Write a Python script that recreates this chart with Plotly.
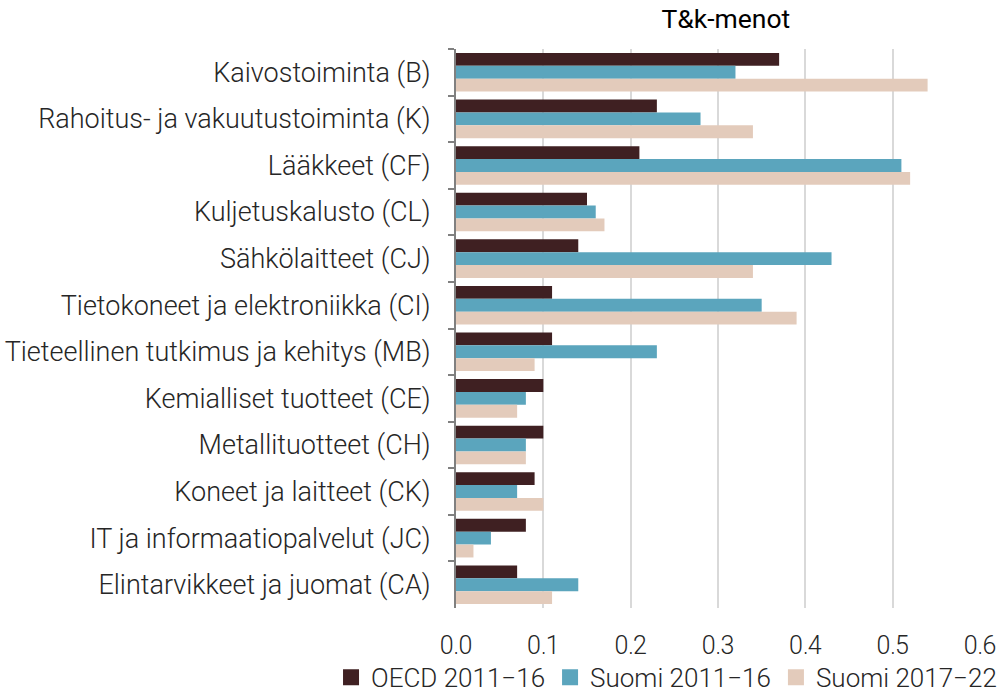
import plotly.graph_objects as go

# =====================================================
# DATA
# =====================================================

toimialat = [
    "Kaivostoiminta (B)",
    "Rahoitus- ja vakuutustoiminta (K)",
    "Lääkkeet (CF)",
    "Kuljetuskalusto (CL)",
    "Sähkölaitteet (CJ)",
    "Tietokoneet ja elektroniikka (CI)",
    "Tieteellinen tutkimus ja kehitys (MB)",
    "Kemialliset tuotteet (CE)",
    "Metallituotteet (CH)",
    "Koneet ja laitteet (CK)",
    "IT ja informaatiopalvelut (JC)",
    "Elintarvikkeet ja juomat (CA)",
]

oecd_2011_16 = [0.37, 0.23, 0.21, 0.15, 0.14, 0.11, 0.11, 0.10, 0.10, 0.09, 0.08, 0.07]
suomi_2011_16 = [0.32, 0.28, 0.51, 0.16, 0.43, 0.35, 0.23, 0.08, 0.08, 0.07, 0.04, 0.14]
suomi_2017_22 = [0.54, 0.34, 0.52, 0.17, 0.34, 0.39, 0.09, 0.07, 0.08, 0.10, 0.02, 0.11]

series = [
    ("OECD 2011\u221216", oecd_2011_16, "#3f2022"),
    ("Suomi 2011\u221216", suomi_2011_16, "#5ba5bd"),
    ("Suomi 2017\u221222", suomi_2017_22, "#e3cbbb"),
]

FONT = "Roboto"

# =====================================================
# FIGURE
# =====================================================

fig = go.Figure()

for name, values, color in series:
    fig.add_trace(go.Bar(
        y=toimialat,
        x=values,
        orientation="h",
        name=name,
        marker=dict(color=color, line=dict(width=0)),
        showlegend=False,
    ))

# small square legend markers
for name, values, color in series:
    fig.add_trace(go.Scatter(
        x=[None],
        y=[None],
        mode="markers",
        name=name,
        marker=dict(symbol="square", size=17, color=color),
    ))

fig.update_layout(
    width=1004,
    height=695,
    barmode="group",
    bargap=0.17,
    bargroupgap=0,
    separators=", ",
    paper_bgcolor="white",
    plot_bgcolor="white",
    margin=dict(l=456, r=24, t=49, b=87, autoexpand=False),
    font=dict(family=FONT, size=27, color="#262626", weight=300),
    title=dict(
        text="T&k-menot",
        x=0.515,
        xref="paper",
        xanchor="center",
        y=0.986,
        yanchor="top",
        font=dict(family=FONT, size=26.5, color="#000000", weight=400),
    ),
    legend=dict(
        orientation="h",
        x=-0.2385,
        xanchor="left",
        y=-0.082,
        yanchor="top",
        itemwidth=30,
        font=dict(family=FONT, size=26, color="#262626", weight=300),
        traceorder="normal",
    ),
)

fig.update_xaxes(
    range=[0, 0.6],
    dtick=0.1,
    tickformat=".1f",
    showgrid=True,
    gridcolor="#d9d9d9",
    gridwidth=1.5,
    zeroline=False,
    showline=False,
    ticks="",
    ticklabelstandoff=20,
    tickfont=dict(size=25),
    automargin=False,
)

fig.update_yaxes(
    autorange="reversed",
    showline=True,
    linecolor="#808080",
    linewidth=2,
    ticks="outside",
    tickson="boundaries",
    ticklen=6,
    tickcolor="#808080",
    tickwidth=2,
    ticklabelstandoff=18,
    automargin=False,
)

# drop the browser's default 8px body margin so the figure sits at 0,0
fig.write_html(
    "out.html",
    config={"displayModeBar": False},
    post_script="document.body.style.margin = '0';",
)
